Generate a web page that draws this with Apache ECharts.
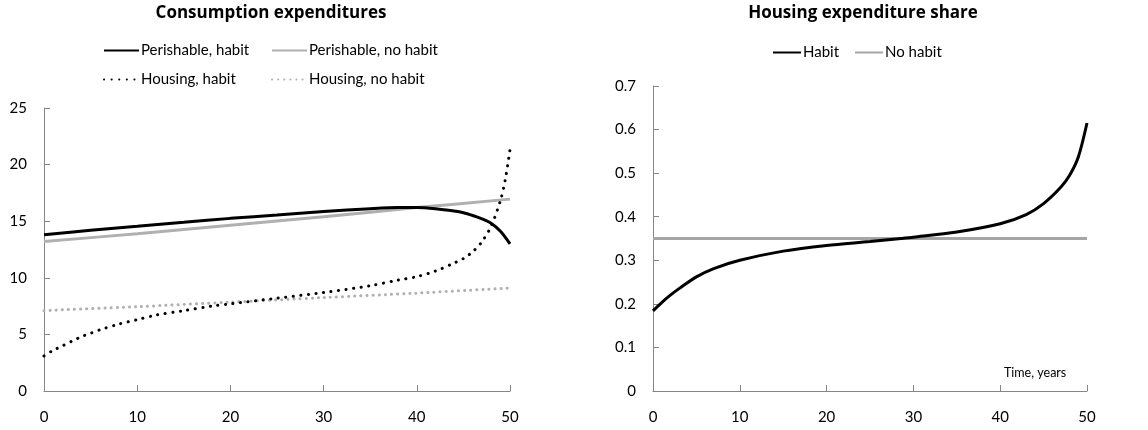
<!DOCTYPE html>
<html><head><meta charset="utf-8">
<script src="https://cdn.jsdelivr.net/npm/echarts@6/dist/echarts.min.js"></script>
<style>html,body{margin:0;padding:0;background:#fff}#c{width:1148px;height:430px}</style>
</head><body><div id="c"></div>
<script>
const xTicks = [0, 10, 20, 30, 40, 50];
// Left chart: Consumption expenditures
const perHabitX = [0, 5, 10, 15, 20, 25, 30, 35, 38, 40, 42, 44, 45, 46, 47, 48, 49, 50];
const perHabitY = [13.8, 14.2, 14.55, 14.9, 15.25, 15.55, 15.85, 16.1, 16.2, 16.2, 16.1, 15.9, 15.75, 15.5, 15.2, 14.8, 14.1, 13.0];
const perNoHabitX = [0, 10, 20, 30, 40, 50];
const perNoHabitY = [13.2, 13.9, 14.65, 15.4, 16.2, 16.95];
const houHabitX = [0, 1, 2, 3, 4, 5, 6, 8, 10, 12, 15, 18, 20, 25, 30, 35, 38, 40, 42, 44, 45, 46, 47, 48, 49, 49.5, 50];
const houHabitY = [3.1, 3.6, 4.0, 4.4, 4.8, 5.1, 5.4, 5.9, 6.3, 6.7, 7.1, 7.5, 7.7, 8.2, 8.7, 9.3, 9.8, 10.1, 10.6, 11.3, 11.7, 12.3, 13.2, 14.6, 16.9, 18.7, 21.3];
const houNoHabitX = [0, 10, 20, 30, 40, 50];
const houNoHabitY = [7.1, 7.45, 7.85, 8.25, 8.65, 9.1];
// Right chart: Housing expenditure share
const shareHabitX = [0, 1, 2, 3, 5, 7, 10, 15, 20, 25, 28, 30, 35, 40, 43, 45, 47, 48, 49, 50];
const shareHabitY = [0.184, 0.203, 0.22, 0.235, 0.262, 0.281, 0.30, 0.321, 0.334, 0.343, 0.349, 0.353, 0.365, 0.384, 0.405, 0.43, 0.468, 0.495, 0.537, 0.615];
const shareNoHabitX = [0, 50];
const shareNoHabitY = [0.35, 0.35];

const pairs = (xs, ys) => xs.map((x, i) => [x, ys[i]]);
const FONT = 'Lato';
const axisCol = '#868686';

function xAxis(gi) {
  return {
    type: 'value', gridIndex: gi, min: 0, max: 50, interval: 10,
    axisLine: {lineStyle: {color: axisCol}},
    axisTick: {inside: true, length: 6, lineStyle: {color: axisCol}},
    splitLine: {show: false},
    axisLabel: {color: '#000', fontFamily: FONT, fontSize: 15, margin: 19}
  };
}
function yAxis(gi, max, interval) {
  return {
    type: 'value', gridIndex: gi, min: 0, max: max, interval: interval,
    axisLine: {show: true, lineStyle: {color: axisCol}},
    axisTick: {show: true, inside: true, length: 6, lineStyle: {color: axisCol}},
    splitLine: {show: false},
    axisLabel: {color: '#000', fontFamily: FONT, fontSize: 15, margin: 17}
  };
}
function legend(name, left, top, w) {
  return {
    data: [name], left: left, top: top, itemWidth: w || 35, itemHeight: 12, itemGap: 0,
    itemStyle: {opacity: 0},
    textStyle: {fontFamily: FONT, fontSize: 15, color: '#000', padding: [0, 0, 0, -3]},
    selectedMode: false
  };
}
const chart = echarts.init(document.getElementById('c'));
chart.setOption({
  animation: false,
  title: [
    {text: 'Consumption expenditures', left: 266, top: 0, textAlign: 'center',
     textStyle: {fontFamily: 'Open Sans', fontWeight: 'bold', fontSize: 17, color: '#000'}},
    {text: 'Housing expenditure share', left: 858, top: 0, textAlign: 'center',
     textStyle: {fontFamily: 'Open Sans', fontWeight: 'bold', fontSize: 17, color: '#000'}}
  ],
  legend: [
    legend('Perishable, habit', 98, 38),
    legend('Perishable, no habit', 266, 38),
    legend('Housing, habit', 98, 67),
    legend('Housing, no habit', 266, 67),
    legend('Habit', 767, 40, 28),
    legend('No habit', 849, 40, 28)
  ],
  grid: [
    {left: 44, right: 638, top: 108, bottom: 39},
    {left: 653, right: 61, top: 86, bottom: 39}
  ],
  xAxis: [xAxis(0), xAxis(1)],
  yAxis: [yAxis(0, 25, 5), yAxis(1, 0.7, 0.1)],
  graphic: [{type: 'text', left: 1004, top: 366,
    style: {text: 'Time, years', fontFamily: FONT, fontSize: 12.5, fill: '#000'}}],
  series: [
    {name: 'Perishable, no habit', type: 'line', xAxisIndex: 0, yAxisIndex: 0, data: pairs(perNoHabitX, perNoHabitY),
     symbol: 'none', smooth: 0.3, lineStyle: {color: '#b0b0b0', width: 3}, itemStyle: {color: '#b0b0b0'}},
    {name: 'Housing, no habit', type: 'line', xAxisIndex: 0, yAxisIndex: 0, data: pairs(houNoHabitX, houNoHabitY),
     symbol: 'none', smooth: 0.3, lineStyle: {color: '#b0b0b0', width: 3, type: [0.1, 6], cap: 'round'}, itemStyle: {color: '#b0b0b0'}},
    {name: 'Perishable, habit', type: 'line', xAxisIndex: 0, yAxisIndex: 0, data: pairs(perHabitX, perHabitY),
     symbol: 'none', smooth: 0.3, lineStyle: {color: '#000', width: 3}, itemStyle: {color: '#000'}},
    {name: 'Housing, habit', type: 'line', xAxisIndex: 0, yAxisIndex: 0, data: pairs(houHabitX, houHabitY),
     symbol: 'none', smooth: 0.3, lineStyle: {color: '#000', width: 3, type: [0.1, 7.5], cap: 'round'}, itemStyle: {color: '#000'}},
    {name: 'No habit', type: 'line', xAxisIndex: 1, yAxisIndex: 1, data: pairs(shareNoHabitX, shareNoHabitY),
     symbol: 'none', lineStyle: {color: '#a6a6a6', width: 3}, itemStyle: {color: '#a6a6a6'}},
    {name: 'Habit', type: 'line', xAxisIndex: 1, yAxisIndex: 1, data: pairs(shareHabitX, shareHabitY),
     symbol: 'none', smooth: 0.3, lineStyle: {color: '#000', width: 3}, itemStyle: {color: '#000'}}
  ]
});
</script></body></html>
